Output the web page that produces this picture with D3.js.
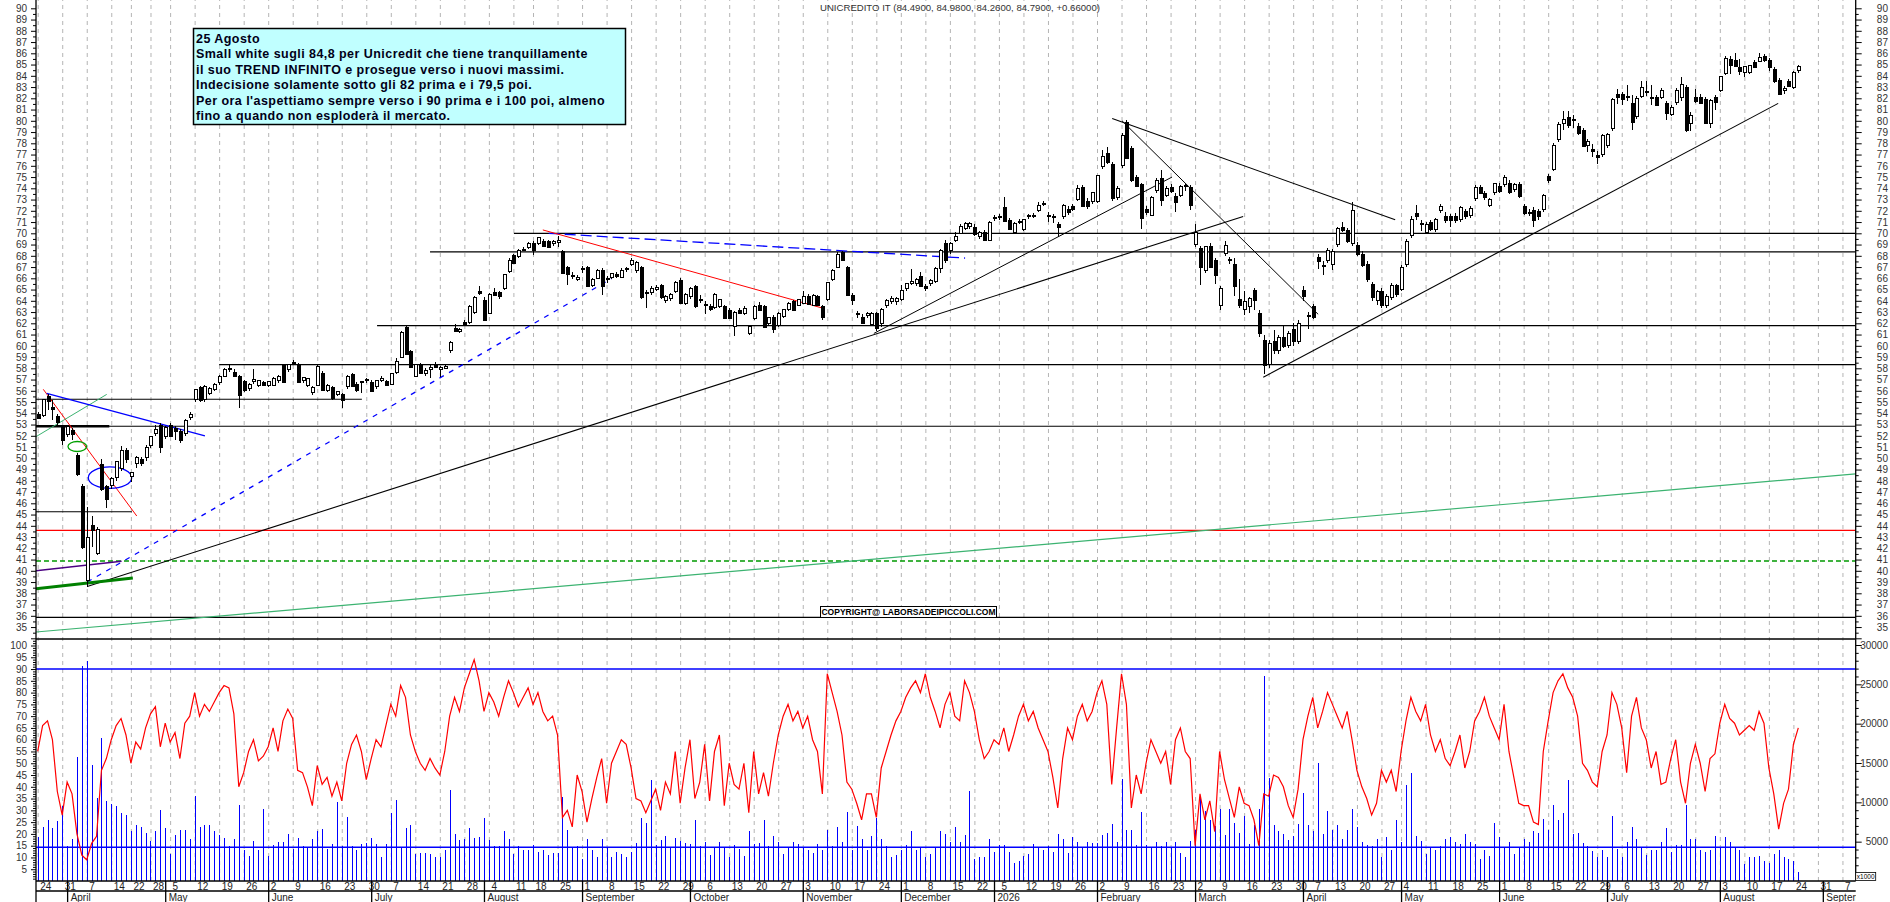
<!DOCTYPE html>
<html><head><meta charset="utf-8">
<script src="https://cdn.jsdelivr.net/npm/d3@7"></script>
<style>body{margin:0;background:#fff}svg{display:block}</style>
</head><body>
<svg id="c" width="1890" height="902"></svg>
<script>
// ---------------- DATA ----------------
const titleText = "UNICREDITO IT (84.4900, 84.9800, 84.2600, 84.7900, +0.66000)";
const noteLines = [
  "25 Agosto",
  "Small white sugli 84,8 per Unicredit che tiene tranquillamente",
  "il suo TREND INFINITO e prosegue verso i nuovi massimi.",
  "Indecisione solamente sotto gli 82 prima e i 79,5 poi.",
  "Per ora l'aspettiamo sempre verso i 90 prima e i 100 poi, almeno",
  "fino a quando non esploderà il mercato."
];
const copyrightText = "COPYRIGHT@ LABORSADEIPICCOLI.COM";
const startDay = "2025-03-24", axisEndDay = "2026-09-11";
const holidays = ["2025-04-18","2025-04-21","2025-05-01","2025-08-15","2025-12-24","2025-12-25","2025-12-26","2025-12-31","2026-01-01","2026-04-03","2026-04-06","2026-05-01"];
const monthNames = ["January","February","March","April","May","June","July","August","September","October","November","December"];

const opens = [
53.9,53.8,55.5,54.6,53.8,52.8,52.1,52.5,50.3,47.5,
39.1,44.1,41.5,49.5,47.5,47.6,48.3,49.1,50.7,48.4,
49.55,49.9,50.1,51.1,52.2,53.0,51.9,53.0,52.7,52.4,
52.2,53.6,55.2,56.3,55.2,55.8,56.1,56.7,57.3,57.9,
57.7,57.3,56.9,56.2,56.8,56.5,56.8,56.5,56.5,56.9,
58.3,57.85,58.5,58.4,56.96,56.5,55.83,56.5,57.55,56.07,
56.3,55.7,55.7,56.4,57.5,56.6,56.75,56.9,56.8,56.4,
56.9,56.9,56.6,57.6,58.95,61.7,59.5,57.3,58.4,57.5,
57.9,58.4,57.9,58.0,59.6,61.6,61.3,62.1,62.1,63.0,
64.9,64.1,62.9,64.8,64.8,65.1,66.6,68.1,67.9,68.6,
68.7,69.1,69.1,69.3,69.3,69.1,69.2,68.4,67.0,66.2,
65.9,66.8,67.0,65.4,66.0,66.7,65.9,66.1,66.4,66.1,
66.8,67.2,66.7,67.0,64.8,64.7,65.0,65.4,64.0,64.2,
64.8,65.85,63.8,64.4,65.3,64.1,63.6,63.5,63.4,63.5,
63.5,63.2,61.7,63.2,62.9,61.1,62.4,63.6,63.5,62.0,
62.6,61.8,62.6,63.2,64.0,63.6,63.8,64.4,63.6,64.4,
63.5,64.1,65.9,67.0,68.3,67.0,64.5,62.9,62.6,62.7,
61.9,62.9,62.0,63.6,63.9,63.9,64.1,65.1,65.5,65.5,
66.2,65.3,65.5,65.7,66.9,69.1,68.5,69.4,70.0,70.4,
70.6,70.6,69.7,70.1,69.4,71.3,71.5,72.3,71.2,70.1,
71.0,70.3,71.5,71.6,72.0,72.7,71.5,71.5,70.8,71.5,
72.2,72.4,73.0,74.1,72.9,72.8,72.8,75.9,77.1,76.2,
73.2,76.0,79.9,77.6,75.0,74.4,72.2,71.6,73.8,74.9,
73.4,74.1,73.3,73.4,74.2,74.1,69.0,68.7,66.7,68.9,
67.6,63.6,68.2,67.7,67.3,64.2,63.2,63.5,64.96,62.9,
60.5,58.3,60.4,59.6,60.8,60.0,61.5,60.4,64.96,62.6,
63.5,67.9,67.2,67.6,67.2,69.0,70.6,70.3,69.1,69.0,
68.2,67.3,65.5,64.0,64.9,63.6,64.3,65.4,65.0,67.2,
69.8,71.8,70.8,70.1,71.0,70.3,72.0,71.5,71.5,71.5,
71.2,72.0,71.6,73.1,74.1,73.6,72.5,73.6,74.2,74.3,
74.5,73.9,74.4,72.4,71.9,72.1,72.0,72.1,75.1,75.7,
78.3,79.8,80.3,80.0,79.5,79.2,77.8,77.5,77.0,77.0,
77.8,79.3,82.4,82.4,82.1,81.6,80.4,82.2,82.5,82.15,
82.1,82.1,81.6,80.6,81.6,82.1,83.0,79.8,82.1,82.1,
81.9,79.8,82.1,82.7,84.2,85.5,85.4,84.8,84.3,84.3,
85.2,85.3,85.8,85.4,84.6,83.6,82.7,83.5,83.0,84.49];

const highs = [
54.1,55.3,55.7,55.2,53.9,53.0,53.0,52.7,50.5,47.7,
45.7,44.9,43.9,49.9,47.6,48.3,49.8,51.1,50.9,48.8,
50.2,50.1,51.2,52.0,53.0,53.1,52.9,53.1,52.9,52.6,
53.5,54.1,56.2,56.4,56.5,56.3,56.7,57.4,58.0,58.3,
57.9,57.4,57.0,56.7,57.9,57.0,56.9,56.9,57.2,57.4,
58.4,58.4,58.75,58.5,57.2,57.1,56.4,58.3,57.8,56.6,
56.4,56.0,55.8,57.4,57.6,56.8,56.9,57.1,57.0,57.0,
57.3,57.0,57.6,58.9,61.3,61.8,59.6,58.4,58.5,58.0,
58.3,58.6,58.2,58.4,60.4,61.9,61.6,62.3,63.6,64.4,
65.3,64.3,64.7,65.1,64.9,66.4,67.8,68.2,68.6,68.8,
69.2,69.3,69.7,69.5,69.4,69.4,69.8,68.5,67.1,66.6,
66.3,67.1,67.1,66.0,66.8,66.9,66.2,66.5,66.6,66.9,
67.0,67.8,67.5,67.1,65.0,65.3,65.4,65.5,64.5,64.7,
65.8,66.0,64.7,65.2,65.4,64.5,64.0,63.7,64.7,64.2,
63.6,63.4,63.1,63.4,63.5,61.8,63.6,63.9,63.6,62.6,
62.7,63.0,63.3,63.9,64.1,64.2,64.9,64.6,64.6,64.5,
63.6,65.7,66.8,68.3,68.4,67.1,64.7,63.1,62.8,63.0,
63.0,63.0,63.4,64.2,64.4,64.3,65.4,65.6,66.8,66.0,
66.6,65.5,65.9,67.0,68.6,69.4,69.2,70.1,70.8,71.0,
71.0,70.8,70.2,70.3,71.1,71.6,71.7,73.2,71.4,71.0,
71.3,71.3,71.7,71.8,72.8,72.9,71.9,71.7,71.0,72.6,
72.4,72.6,74.3,74.3,73.1,73.7,75.2,77.4,77.7,76.3,
74.2,78.9,80.1,77.8,75.2,74.5,72.4,73.3,74.9,75.6,
74.2,74.4,73.6,74.3,74.4,74.3,70.8,68.9,68.9,69.1,
67.8,65.3,69.3,67.9,67.8,65.9,64.9,64.3,65.1,63.2,
61.0,60.5,61.4,61.0,61.8,61.3,62.0,62.3,65.3,63.0,
63.7,68.2,67.5,68.7,68.6,70.6,71.0,70.5,72.8,69.2,
68.4,67.5,65.7,65.0,65.1,64.6,65.6,65.5,67.2,69.5,
71.5,72.5,71.2,71.0,71.2,71.4,72.6,71.9,71.7,71.8,
72.4,72.2,72.4,74.3,74.3,73.8,73.1,74.5,74.5,75.2,
74.7,74.5,74.6,72.6,72.2,72.3,72.2,73.5,75.3,78.0,
79.9,80.9,80.9,80.5,79.8,79.4,78.4,77.9,77.3,78.8,
78.9,82.0,82.8,82.6,83.2,82.3,82.2,83.5,83.5,83.2,
82.3,82.9,81.8,81.4,82.9,83.9,83.2,80.8,82.8,82.4,
82.1,81.9,82.3,84.0,85.8,85.8,86.0,85.5,84.9,85.0,
85.4,86.0,85.9,85.6,84.8,83.8,83.1,83.7,84.4,84.98];

const lows = [
53.5,53.7,54.3,53.4,53.0,51.2,51.9,51.6,48.4,41.9,
38.6,42.1,41.4,47.1,45.6,47.3,48.0,48.9,49.6,47.9,
49.1,49.3,49.8,50.9,52.0,50.5,51.7,51.9,51.6,51.4,
52.0,53.4,55.0,55.0,55.0,55.6,56.0,56.5,57.2,57.7,
57.2,54.5,55.9,56.0,56.6,56.3,56.4,56.3,56.4,56.7,
56.7,57.7,58.3,56.7,56.7,56.3,55.6,56.4,56.0,55.9,
55.2,55.5,54.5,56.2,56.3,55.9,55.8,56.7,55.9,56.2,
56.8,56.4,56.5,57.5,58.9,59.2,58.0,57.2,57.5,57.3,
57.1,58.0,57.2,57.9,59.4,61.2,61.1,61.8,61.9,62.8,
64.5,62.2,62.8,64.4,64.2,65.0,66.5,67.3,67.8,68.4,
68.6,68.1,69.0,68.8,68.7,68.9,68.8,66.4,65.4,65.9,
65.8,66.5,65.2,65.2,65.9,64.5,65.6,65.9,66.0,66.0,
66.6,67.1,66.5,64.2,63.4,64.5,64.9,64.2,63.8,64.0,
64.7,63.7,63.6,64.2,63.4,63.8,62.8,63.1,63.3,63.4,
62.4,62.4,60.9,62.8,62.7,60.95,62.3,63.1,61.6,61.8,
61.1,61.7,62.5,63.1,63.1,63.5,63.7,63.6,63.5,63.5,
62.3,64.0,65.8,66.9,67.5,64.4,63.6,62.5,61.9,62.5,
61.8,61.3,61.7,63.4,63.7,63.6,64.0,64.9,65.4,65.3,
65.2,64.9,65.3,65.6,66.5,67.4,68.2,69.2,69.9,70.3,
70.4,69.8,69.5,69.3,69.3,71.1,71.2,71.0,70.3,69.9,
70.8,70.2,71.3,71.4,71.9,72.4,71.0,70.9,69.7,71.3,
71.6,72.0,72.9,72.3,72.2,72.6,72.7,75.7,76.2,72.9,
73.0,75.8,76.6,74.6,74.1,70.4,71.6,71.5,73.6,72.4,
73.2,73.6,71.9,73.2,73.8,72.1,68.8,65.4,66.5,66.9,
65.5,63.2,68.0,67.3,64.4,63.4,62.7,62.9,63.2,60.8,
57.5,58.0,59.3,59.3,59.8,59.8,60.0,60.2,64.0,61.5,
62.4,66.8,66.3,67.4,66.7,68.8,70.1,69.1,68.9,68.0,
67.0,65.7,64.0,63.6,63.4,63.4,64.1,64.3,64.9,67.0,
69.6,71.2,70.2,69.9,70.2,70.1,71.8,70.9,70.6,70.9,
71.0,71.3,71.4,72.9,73.5,73.0,72.3,73.4,73.6,74.1,
73.5,73.7,73.1,71.6,71.5,70.6,71.2,71.9,74.5,75.5,
78.1,79.2,79.4,79.4,78.7,77.7,77.2,76.8,76.2,76.8,
77.6,79.1,81.5,81.4,81.8,79.2,80.2,82.0,82.2,81.4,
81.3,81.9,80.1,80.4,81.4,81.8,79.0,79.1,81.6,81.5,
79.7,79.4,81.0,82.6,84.1,84.2,84.8,84.1,83.9,84.2,
84.7,85.2,85.2,84.4,83.4,82.4,82.4,83.0,82.8,84.26];

const closes = [
53.6,55.2,55.1,54.4,53.2,51.6,52.8,52.2,48.6,42.1,
43.0,43.6,43.7,47.3,46.4,48.2,49.7,50.7,49.9,48.7,
50.05,49.55,51.0,51.9,52.6,51.0,52.7,52.0,52.4,51.6,
53.4,53.9,56.1,55.2,56.4,56.2,56.6,57.3,57.9,57.95,
57.3,55.6,56.1,56.6,57.0,56.9,56.5,56.8,57.1,57.3,
56.8,58.3,58.55,56.8,57.2,57.05,56.28,58.2,56.07,56.5,
55.4,55.9,55.2,57.3,56.4,56.1,56.8,57.0,56.0,56.9,
57.1,56.5,57.5,58.6,61.2,59.3,58.1,58.3,57.6,57.8,
58.1,58.1,58.1,58.2,60.3,61.3,61.45,61.9,63.5,64.3,
64.7,62.3,64.6,64.5,64.4,66.3,67.6,67.4,68.5,68.5,
69.1,68.5,69.6,68.9,68.8,69.3,69.35,66.5,66.4,66.25,
66.1,66.85,65.3,65.9,66.7,65.3,66.0,66.4,66.2,66.7,
66.85,67.6,67.4,64.3,64.7,65.1,65.2,64.3,64.4,64.6,
65.6,63.8,64.6,65.1,63.5,64.15,63.65,63.3,64.6,64.1,
62.5,62.5,63.0,62.9,63.3,61.7,63.5,63.2,61.7,62.5,
61.5,62.9,63.2,63.8,63.2,64.1,64.4,63.7,64.5,63.6,
62.6,65.6,66.7,68.1,67.6,64.5,64.1,62.8,62.0,62.85,
62.9,61.6,63.2,64.0,64.2,64.2,64.96,65.5,65.7,65.85,
65.3,65.1,65.8,66.9,68.5,67.6,69.1,69.7,70.6,70.9,
70.9,69.9,70.1,69.4,71.0,71.4,71.45,71.1,70.4,70.9,
71.05,71.2,71.55,71.6,72.5,72.65,71.55,71.45,70.6,72.5,
71.9,72.2,74.0,72.4,72.4,73.6,75.1,76.8,76.3,73.1,
74.0,78.7,76.7,74.7,74.2,71.4,71.9,73.2,74.7,73.0,
74.0,73.8,72.8,74.2,74.25,72.5,70.1,67.0,68.8,67.0,
66.3,65.1,68.9,67.6,65.3,63.6,63.9,64.2,64.07,61.1,
58.3,60.2,59.6,60.7,60.0,61.1,60.4,62.0,64.4,62.7,
62.6,67.5,67.1,68.5,68.4,70.4,70.3,69.3,72.0,68.2,
67.2,65.9,64.3,64.8,63.6,64.4,65.4,64.6,67.0,69.3,
71.2,71.5,70.9,70.8,70.4,71.2,72.4,71.2,71.2,71.2,
72.3,71.5,72.2,74.1,73.6,73.2,73.0,74.4,73.8,75.0,
73.7,74.3,73.3,71.8,71.8,71.2,71.5,73.4,74.7,77.8,
79.7,80.1,79.6,80.1,78.9,77.8,78.2,77.3,76.8,78.7,
78.8,81.9,82.1,81.9,82.2,79.9,82.0,83.0,82.6,82.05,
81.4,82.7,80.7,81.2,82.7,83.2,79.2,80.5,81.8,81.6,
79.8,81.8,81.7,83.9,85.5,84.96,84.9,84.4,84.8,84.9,
84.8,85.6,85.4,84.8,83.5,82.4,82.9,83.1,84.3,84.79];

// volume in thousands of shares (right axis, x1000)
const volumes = [
5.6,6.9,7.8,6.7,7.6,9.5,4.5,5.4,15.8,27.3,
28.0,14.7,10.5,18.2,10.2,9.8,9.5,8.7,8.4,6.3,
7.1,6.9,6.1,5.1,6.3,9.0,6.8,3.4,5.9,6.5,
6.5,5.3,10.8,6.9,7.1,7.1,6.3,5.9,5.5,4.5,
5.3,9.7,3.9,3.2,5.1,3.9,9.2,3.2,4.6,5.0,
4.9,6.0,4.1,5.5,4.5,4.2,5.3,6.3,6.6,4.1,
4.7,10.0,4.5,8.1,4.5,4.0,4.7,4.8,5.5,4.7,
3.0,4.7,8.7,10.3,4.2,6.7,7.1,3.4,3.5,3.5,
3.4,3.0,3.0,3.9,11.6,6.0,5.2,5.3,6.7,5.5,
5.6,8.0,5.2,4.5,4.4,6.4,5.3,3.4,4.5,4.0,
4.0,4.6,3.7,3.9,3.3,3.6,3.5,10.7,6.5,4.3,
4.4,2.8,5.3,4.0,3.0,5.3,4.3,3.1,3.7,3.4,
3.1,3.7,4.8,8.0,7.4,12.8,4.6,5.2,5.7,4.3,
5.5,5.1,4.8,4.7,7.8,4.5,5.0,3.3,4.3,5.0,
4.3,3.0,4.6,4.1,3.2,6.3,4.7,4.8,7.8,4.5,
5.7,5.0,3.4,4.3,5.0,4.7,4.3,3.9,3.5,4.7,
4.0,6.5,4.5,6.9,5.0,8.8,4.0,7.0,5.3,4.0,
5.7,8.0,5.3,4.5,3.0,3.3,4.0,4.6,6.4,3.9,
4.2,3.1,3.4,4.2,6.3,6.0,4.9,6.9,5.0,5.9,
11.4,2.8,3.1,3.1,5.3,3.7,4.6,4.6,3.7,2.3,
2.6,3.2,3.4,4.7,4.3,4.0,4.5,3.7,6.0,5.3,
3.6,5.6,4.9,4.2,4.9,4.8,4.8,5.9,6.1,7.3,
4.9,13.0,6.5,6.5,4.6,8.8,4.6,4.2,5.0,4.5,
5.0,4.2,5.0,3.6,3.1,5.1,6.5,10.5,8.9,7.8,
7.0,9.2,5.9,9.2,7.4,6.1,8.3,4.7,7.1,9.2,
26.0,13.1,7.1,6.3,6.0,5.2,5.7,7.3,11.2,7.1,
6.3,15.0,6.0,8.9,6.5,7.1,5.4,6.5,9.2,6.9,
4.9,4.6,4.5,5.3,3.0,5.6,3.9,7.8,5.0,12.2,
13.7,5.7,5.1,3.4,4.3,4.0,4.5,5.4,5.6,5.0,
4.7,6.0,5.0,4.7,2.8,4.0,3.2,7.4,5.6,4.3,
4.9,3.4,4.3,5.4,5.0,6.3,6.1,7.9,6.5,9.7,
7.8,8.7,12.8,6.0,6.1,4.8,4.5,3.8,3.0,4.0,
3.1,8.2,4.1,3.1,4.9,6.9,5.3,4.3,3.3,4.0,
4.0,4.9,6.7,3.7,4.6,4.6,9.6,5.3,5.4,3.9,
3.7,3.9,5.7,4.3,5.6,4.9,4.3,3.9,2.2,3.0,
3.0,3.2,2.5,2.3,3.4,3.9,3.0,2.8,2.5,1.1];
const volumeAverage = 4.28; // thousands

// oscillator (left axis 0-100)
const oscillator = [
55,66,68,60,38,28,42,37,20,11,
9,16,19,47,52,60,66,69,62,50,
59,56,65,71,74,57,67,59,63,52,
67,70,80,70,75,72,76,80,83,82,
71,40,46,55,60,51,53,57,65,55,
68,73,69,47,46,40,32,49,41,44,
36,42,34,50,58,62,55,43,52,60,
57,66,75,70,83,78,62,55,50,47,
52,48,45,55,70,78,72,82,88,94,
85,72,80,76,70,78,85,80,74,78,
82,75,80,72,68,70,62,27,30,23,
45,38,25,35,44,52,33,50,55,60,
58,48,35,34,29,34,39,30,42,37,
55,33,48,60,35,42,58,34,55,62,
32,50,41,39,50,29,55,37,46,36,
50,62,70,75,68,72,65,70,60,55,
37,88,80,72,62,42,39,33,26,37,
37,27,48,55,62,68,72,78,82,85,
80,88,78,72,65,75,80,70,68,85,
80,72,60,52,55,60,58,65,55,62,
70,75,68,72,65,60,55,44,31,52,
65,60,70,75,68,72,80,85,75,41,
65,88,75,31,45,37,50,60,55,50,
55,41,60,65,55,52,15,37,26,34,
21,55,43,35,27,40,33,32,26,15,
37,36,45,44,40,32,27,39,60,70,
78,65,72,80,75,70,65,72,60,47,
40,35,28,33,47,42,47,38,55,68,
78,72,68,75,62,55,60,52,49,55,
62,48,55,68,72,78,70,65,60,75,
55,44,33,32,32,25,24,55,68,80,
85,88,82,78,70,50,47,42,40,55,
62,80,75,65,46,70,78,65,60,48,
55,41,42,52,60,42,33,50,58,50,
38,52,54,67,75,69,67,62,64,66,
64,72,67,48,37,22,33,39,58,65];
const oscLevel = 90;

// drawn annotations, in (trading-day index, price) space
const trendLines = [
  {a:[1.14,56.13], b:[20.2,44.87], c:"#ff0000", w:1},
  {a:[-0.35,51.92], b:[14.07,55.68], c:"#3cb371", w:1},
  {a:[1.84,55.77], b:[34.1,52.0], c:"#0000ff", w:1.3},
  {a:[10.1,39.0], b:[117.1,66.0], c:"#0000ff", w:1.3, dash:"5,6"},
  {a:[104.2,70.0], b:[189.1,67.8], c:"#0000ff", w:1.3, dash:"11,5"},
  {a:[103.0,70.3], b:[160.2,63.33], c:"#ff0000", w:1},
  {a:[10.1,38.6], b:[245.8,71.5], c:"#000", w:1.1},
  {a:[170.5,61.1], b:[231.3,75.0], c:"#000", w:1},
  {a:[219.1,80.2], b:[276.8,71.2], c:"#000", w:1.1},
  {a:[221.1,80.0], b:[261.1,62.8], c:"#000", w:1},
  {a:[249.9,57.2], b:[354.9,81.55], c:"#000", w:1.1},
  {a:[-0.35,38.4], b:[19.4,39.35], c:"#008000", w:3},
  {a:[-0.35,40.0], b:[17.1,40.85], c:"#4b0082", w:1.4},
  {a:[-0.35,34.56], b:[370.7,48.62], c:"#3cb371", w:1.2}
];
const levels = [
  {p:70.0, from:97.1, c:"#000", w:1.2},
  {p:68.35, from:80, c:"#000", w:1.2},
  {p:61.8, from:69.2, c:"#000", w:1.2},
  {p:58.33, from:37, c:"#000", w:1.2},
  {p:55.25, from:-0.35, to:66.1, c:"#000", w:1.2},
  {p:52.85, from:-0.35, c:"#000", w:1.2},
  {p:52.85, from:-0.35, to:14.6, c:"#000", w:2.5},
  {p:45.25, from:-0.35, to:19.2, c:"#000", w:1.2},
  {p:43.6, from:-0.35, c:"#ff0000", w:1.3},
  {p:40.87, from:-0.35, c:"#009900", w:1.3, dash:"5,3"},
  {p:35.86, from:-0.35, c:"#000", w:1.3}
];
const ellipses = [
  {i:8.07, p:51.05, rx:9.3, ry:5, c:"#00a000"},
  {i:14.74, p:48.28, rx:21.7, ry:10.7, c:"#0000ff"}
];

// ---------------- LAYOUT ----------------
const plotL = 36, plotR = 1855.7, panelSplit = 639, plotB = 881;
const svg = d3.select("#c");
const FONT = '"Liberation Sans", Arial, sans-serif';

// trading calendar
const hol = new Set(holidays);
const days = [];
for (let d = new Date(startDay + "T00:00:00Z"); d <= new Date(axisEndDay + "T00:00:00Z"); d = new Date(d.getTime() + 86400000)) {
  const dow = d.getUTCDay(), s = d.toISOString().slice(0, 10);
  if (dow === 0 || dow === 6 || hol.has(s)) continue;
  days.push(d);
}

const x = d3.scaleLinear().domain([0, closes.length - 1]).range([37.7, 1798.3]);
const yP = d3.scaleLinear().domain([34, 90]).range([638.3, 8.3]);
const yL = d3.scaleLinear().domain([0, 100]).range([plotB, 645.5]);
const yV = d3.scaleLinear().domain([0, 30]).range([plotB, 645]);

// week and month markers
const weekIdx = [], monthIdx = [];
let lastWeekX = -99;
days.forEach((d, i) => {
  const prev = days[i - 1];
  const newWeek = !prev || d3.utcMonday.floor(d).getTime() !== d3.utcMonday.floor(prev).getTime();
  if (newWeek && x(i) <= plotR) {
    if (x(i) - lastWeekX >= 12) { weekIdx.push(i); lastWeekX = x(i); }
  }
  if (prev && d.getUTCMonth() !== prev.getUTCMonth() && x(i) <= plotR) monthIdx.push(i);
});

const defs = svg.append("defs");
defs.append("clipPath").attr("id", "clipP").append("rect").attr("x", plotL).attr("y", 0).attr("width", plotR - plotL).attr("height", panelSplit);
defs.append("clipPath").attr("id", "clipL").append("rect").attr("x", plotL).attr("y", panelSplit).attr("width", plotR - plotL).attr("height", plotB - panelSplit);
defs.append("clipPath").attr("id", "clipX").append("rect").attr("x", plotL).attr("y", plotB).attr("width", plotR - plotL).attr("height", 30);

// vertical dashed grid (weeks)
const grid = svg.append("g").attr("transform", `translate(0,${plotB})`)
  .call(d3.axisBottom(x).tickValues(weekIdx).tickSize(-plotB).tickFormat(""));
grid.select(".domain").remove();
grid.selectAll("line").attr("stroke", "#b4b4b4").attr("stroke-dasharray", "4,4").attr("stroke-width", 1);

// ---------- price panel ----------
const gP = svg.append("g").attr("clip-path", "url(#clipP)");
const xMax = x.invert(plotR);
levels.forEach(l => {
  gP.append("line").attr("x1", x(l.from)).attr("x2", x(l.to !== undefined ? l.to : xMax))
    .attr("y1", yP(l.p)).attr("y2", yP(l.p)).attr("stroke", l.c).attr("stroke-width", l.w)
    .attr("stroke-dasharray", l.dash || null);
});
trendLines.forEach(t => {
  gP.append("line").attr("x1", x(t.a[0])).attr("y1", yP(t.a[1])).attr("x2", x(t.b[0])).attr("y2", yP(t.b[1]))
    .attr("stroke", t.c).attr("stroke-width", t.w).attr("stroke-dasharray", t.dash || null);
});
ellipses.forEach(e => {
  gP.append("ellipse").attr("cx", x(e.i)).attr("cy", yP(e.p)).attr("rx", e.rx).attr("ry", e.ry)
    .attr("fill", "none").attr("stroke", e.c).attr("stroke-width", 1.3);
});

// candles
const candles = gP.append("g").attr("shape-rendering", "crispEdges");
closes.forEach((c, i) => {
  const o = opens[i], h = highs[i], l = lows[i];
  const cx = Math.round(x(i));
  candles.append("line").attr("x1", cx + 0.5).attr("x2", cx + 0.5).attr("y1", yP(h)).attr("y2", yP(l))
    .attr("stroke", "#000").attr("stroke-width", 1);
  const top = yP(Math.max(o, c)), bot = yP(Math.min(o, c));
  const hgt = Math.max(1, bot - top);
  if (c >= o) {
    candles.append("rect").attr("x", cx - 1).attr("y", top).attr("width", 3).attr("height", hgt)
      .attr("fill", "#fff").attr("stroke", "#000").attr("stroke-width", 1);
  } else {
    candles.append("rect").attr("x", cx - 1).attr("y", top).attr("width", 4).attr("height", hgt + 1)
      .attr("fill", "#000");
  }
});

// copyright label (sits on the 36 level line)
const cpy = svg.append("g");
cpy.append("rect").attr("x", 820.5).attr("y", 606.5).attr("width", 176).attr("height", 11)
  .attr("fill", "#fff").attr("stroke", "#000").attr("stroke-width", 1);
cpy.append("text").attr("x", 908.5).attr("y", 615.3).attr("text-anchor", "middle")
  .style("font", `bold 8.5px ${FONT}`).attr("fill", "#000").text(copyrightText);

// ---------- lower panel ----------
const gL = svg.append("g").attr("clip-path", "url(#clipL)");
gL.append("g").attr("shape-rendering", "crispEdges").selectAll("line").data(volumes).join("line")
  .attr("x1", (d, i) => Math.round(x(i)) + 0.5).attr("x2", (d, i) => Math.round(x(i)) + 0.5)
  .attr("y1", yV(0)).attr("y2", d => yV(d)).attr("stroke", "#0000ff").attr("stroke-width", 1);
gL.append("line").attr("x1", plotL).attr("x2", plotR).attr("y1", yL(oscLevel)).attr("y2", yL(oscLevel))
  .attr("stroke", "#0000ff").attr("stroke-width", 1.5);
gL.append("line").attr("x1", plotL).attr("x2", plotR).attr("y1", yV(volumeAverage)).attr("y2", yV(volumeAverage))
  .attr("stroke", "#0000ff").attr("stroke-width", 1.5);
gL.append("path").datum(oscillator)
  .attr("d", d3.line().x((d, i) => x(i)).y(d => yL(d)))
  .attr("fill", "none").attr("stroke", "#ff0000").attr("stroke-width", 1.2);

// panel borders
svg.append("line").attr("x1", plotL).attr("x2", plotR).attr("y1", panelSplit).attr("y2", panelSplit).attr("stroke", "#000").attr("stroke-width", 1.3);
svg.append("line").attr("x1", plotL).attr("x2", plotR).attr("y1", plotB).attr("y2", plotB).attr("stroke", "#000").attr("stroke-width", 1.3);
svg.append("line").attr("x1", plotL).attr("x2", plotR).attr("y1", 891).attr("y2", 891).attr("stroke", "#000").attr("stroke-width", 1.6);
svg.append("line").attr("x1", plotL).attr("x2", plotL).attr("y1", 0).attr("y2", 902).attr("stroke", "#000").attr("stroke-width", 1.3);
svg.append("line").attr("x1", plotR).attr("x2", plotR).attr("y1", 0).attr("y2", plotB).attr("stroke", "#000").attr("stroke-width", 1.3);

// ---------- y axes ----------
function styleAxis(g, right) {
  g.select(".domain").remove();
  g.selectAll("line").attr("stroke", "#000");
  g.selectAll("text").attr("fill", "#333").style("font", `10px ${FONT}`);
  if (right) g.selectAll("text").attr("text-anchor", "end").attr("x", 32.3);
}
const priceMajor = d3.range(34, 91), priceMinor = d3.range(34.5, 90.5, 1);
const lowMajor = d3.range(5, 101, 5), lowMinor = d3.range(1, 103, 1).filter(v => v % 5);
const volMajor = d3.range(5, 31, 5), volMinor = d3.range(1, 31, 1).filter(v => v % 5);
const fmtP = v => (v >= 35 ? String(v) : "");

svg.append("g").attr("transform", `translate(${plotL},0)`).call(d3.axisLeft(yP).tickValues(priceMinor).tickSize(3).tickFormat("")).call(g => styleAxis(g));
svg.append("g").attr("transform", `translate(${plotL},0)`).call(d3.axisLeft(yP).tickValues(priceMajor).tickSize(5).tickPadding(4).tickFormat(fmtP)).call(g => styleAxis(g));
svg.append("g").attr("transform", `translate(${plotR},0)`).call(d3.axisRight(yP).tickValues(priceMinor).tickSize(3).tickFormat("")).call(g => styleAxis(g, true));
svg.append("g").attr("transform", `translate(${plotR},0)`).call(d3.axisRight(yP).tickValues(priceMajor).tickSize(6).tickFormat(fmtP)).call(g => styleAxis(g, true));

svg.append("g").attr("transform", `translate(${plotL},0)`).call(d3.axisLeft(yL).tickValues(lowMinor).tickSize(3).tickFormat("")).call(g => styleAxis(g));
svg.append("g").attr("transform", `translate(${plotL},0)`).call(d3.axisLeft(yL).tickValues(lowMajor).tickSize(5).tickPadding(4).tickFormat(d3.format("d"))).call(g => styleAxis(g));
svg.append("g").attr("transform", `translate(${plotR},0)`).call(d3.axisRight(yV).tickValues(volMinor).tickSize(3).tickFormat("")).call(g => styleAxis(g, true));
svg.append("g").attr("transform", `translate(${plotR},0)`).call(d3.axisRight(yV).tickValues(volMajor).tickSize(6).tickFormat(v => String(v * 1000))).call(g => styleAxis(g, true));

// x1000 box
svg.append("rect").attr("x", plotR).attr("y", 872.5).attr("width", 20).attr("height", 8).attr("fill", "#fff").attr("stroke", "#000").attr("stroke-width", 0.8);
svg.append("text").attr("x", plotR + 10).attr("y", 879).attr("text-anchor", "middle").style("font", `6.5px ${FONT}`).attr("fill", "#000").text("x1000");

// ---------- x axis ----------
const gX = svg.append("g").attr("clip-path", "url(#clipX)");
const wk = gX.append("g").attr("transform", `translate(0,${plotB})`)
  .call(d3.axisBottom(x).tickValues(weekIdx).tickSize(0).tickFormat(i => String(days[i].getUTCDate())));
wk.select(".domain").remove();
wk.selectAll("text").attr("text-anchor", "start").attr("x", 2).attr("y", 9.3).attr("dy", 0)
  .attr("fill", "#222").style("font", `10px ${FONT}`);

const mo = gX.append("g").attr("transform", `translate(0,${plotB})`)
  .call(d3.axisBottom(x).tickValues(monthIdx).tickSize(21).tickFormat(i => {
    const d = days[i]; return d.getUTCMonth() === 0 ? String(d.getUTCFullYear()) : monthNames[d.getUTCMonth()];
  }));
mo.select(".domain").remove();
mo.selectAll("line").attr("stroke", "#000").attr("stroke-width", 1.3);
mo.selectAll("text").attr("text-anchor", "start").attr("x", 3).attr("y", 19.5).attr("dy", 0)
  .attr("fill", "#222").style("font", `10px ${FONT}`);

// ---------- title & note ----------
svg.append("text").attr("x", 820).attr("y", 10.5).style("font", `9.6px ${FONT}`).attr("fill", "#333").text(titleText);

const note = svg.append("g");
note.append("rect").attr("x", 193.5).attr("y", 28.5).attr("width", 432).attr("height", 96)
  .attr("fill", "#c0ffff").attr("stroke", "#000").attr("stroke-width", 1.5);
noteLines.forEach((t, k) => {
  note.append("text").attr("x", 196).attr("y", 42.5 + k * 15.5).style("font", `bold 12.5px ${FONT}`)
    .style("letter-spacing", "0.45px").attr("fill", "#000018").text(t);
});
</script>
</body></html>
